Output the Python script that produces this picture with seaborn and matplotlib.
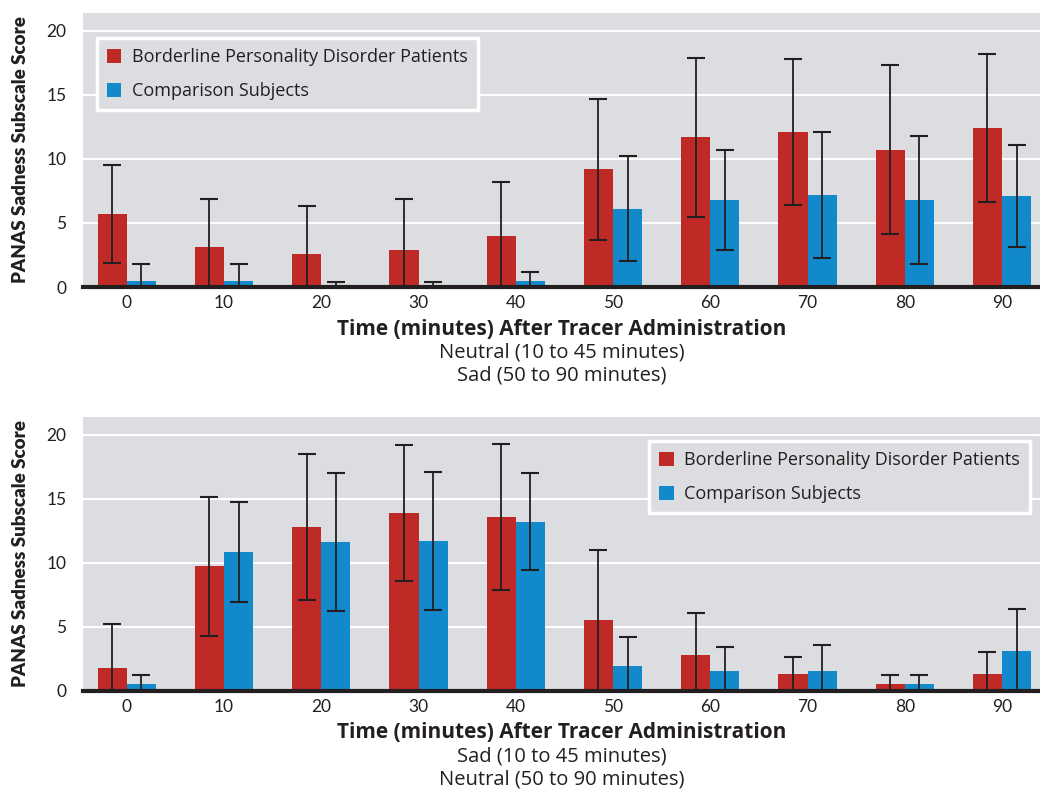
import numpy as np
import pandas as pd
import seaborn as sns
import matplotlib.pyplot as plt

# Data (mean and SD per time point)
minutes = [0, 10, 20, 30, 40, 50, 60, 70, 80, 90]
groups = ['Borderline Personality Disorder Patients', 'Comparison Subjects']

top_bpd_mean = [5.7, 3.1, 2.6, 2.9, 4.0, 9.2, 11.7, 12.1, 10.7, 12.4]
top_bpd_sd = [3.8, 3.8, 3.7, 4.0, 4.2, 5.5, 6.2, 5.7, 6.6, 5.8]
top_cmp_mean = [0.5, 0.5, 0.05, 0.05, 0.45, 6.1, 6.8, 7.2, 6.8, 7.1]
top_cmp_sd = [1.3, 1.3, 0.35, 0.35, 0.7, 4.1, 3.9, 4.9, 5.0, 4.0]

bot_bpd_mean = [1.8, 9.7, 12.8, 13.9, 13.6, 5.5, 2.8, 1.3, 0.5, 1.3]
bot_bpd_sd = [3.4, 5.4, 5.7, 5.3, 5.7, 5.5, 3.3, 1.3, 0.7, 1.7]
bot_cmp_mean = [0.5, 10.8, 11.6, 11.7, 13.2, 1.9, 1.5, 1.5, 0.5, 3.1]
bot_cmp_sd = [0.7, 3.9, 5.4, 5.4, 3.8, 2.3, 1.9, 2.1, 0.7, 3.3]

top_notes = ['Neutral (10 to 45 minutes)', 'Sad (50 to 90 minutes)']
bot_notes = ['Sad (10 to 45 minutes)', 'Neutral (50 to 90 minutes)']

red = '#c02a26'
blue = '#1189cb'
panel_bg = '#dcdde0'
ink = '#231f20'
palette = {groups[0]: red, groups[1]: blue}

text_font = ['Open Sans', 'DejaVu Sans']
tick_font = ['Lato', 'DejaVu Sans']


def panel(ax, bpd_mean, bpd_sd, cmp_mean, cmp_sd, notes, legend_loc, legend_anchor):
    df = pd.DataFrame({
        'minutes': minutes * 2,
        'group': [groups[0]] * len(minutes) + [groups[1]] * len(minutes),
        'score': bpd_mean + cmp_mean,
    })
    sns.barplot(data=df, x='minutes', y='score', hue='group', palette=palette,
                width=0.6, errorbar=None, saturation=1, linewidth=0, ax=ax)

    # error bars centred on the bars seaborn drew
    bars = ax.patches[:2 * len(minutes)]
    xs = [b.get_x() + b.get_width() / 2 for b in bars]
    ys = [b.get_height() for b in bars]
    sds = bpd_sd + cmp_sd
    ax.errorbar(xs, ys, yerr=sds, fmt='none', ecolor=ink, elinewidth=1.3,
                capsize=6.5, capthick=1.5, zorder=4)

    ax.set_facecolor(panel_bg)
    ax.set_ylim(0, 21.4)
    ax.set_xlim(-0.45, 9.39)
    ax.set_yticks([0, 5, 10, 15, 20])
    ax.grid(axis='y', color='white', linewidth=1.5)
    ax.grid(axis='x', visible=False)
    ax.set_axisbelow(True)
    for s in ['top', 'right', 'left']:
        ax.spines[s].set_visible(False)
    ax.spines['bottom'].set_color(ink)
    ax.spines['bottom'].set_linewidth(3)
    ax.spines['bottom'].set_zorder(5)
    ax.tick_params(length=0, labelsize=12.5, colors=ink)
    ax.tick_params(axis='y', pad=12)
    ax.tick_params(axis='x', pad=6)
    for lab in ax.get_xticklabels() + ax.get_yticklabels():
        lab.set_family(tick_font)

    ax.set_ylabel('PANAS Sadness Subscale Score', fontsize=13.5, fontweight='heavy',
                  color=ink, family=['Lato', 'DejaVu Sans'], va='center')
    ax.yaxis.set_label_coords(-0.065, 0.5)
    ax.set_xlabel('Time (minutes) After Tracer Administration', fontsize=15,
                  fontweight='bold', color=ink, family=text_font, va='center')
    ax.xaxis.set_label_coords(0.5, -0.153)
    ax.text(0.5, -0.24, notes[0], transform=ax.transAxes, ha='center', va='center',
            fontsize=14.5, color=ink, family=text_font)
    ax.text(0.5, -0.324, notes[1], transform=ax.transAxes, ha='center', va='center',
            fontsize=14.5, color=ink, family=text_font)

    leg = ax.legend(loc=legend_loc, bbox_to_anchor=legend_anchor, frameon=True,
                    fancybox=False, facecolor=panel_bg, edgecolor='white',
                    framealpha=1, handlelength=0.8, handleheight=0.8,
                    handletextpad=0.6, labelspacing=0.9, borderpad=0.55,
                    borderaxespad=0, prop={'family': text_font, 'size': 13},
                    title=None)
    leg.get_frame().set_linewidth(2.5)
    for t in leg.get_texts():
        t.set_color(ink)


sns.set_style('white')
plt.rcParams['font.family'] = ['DejaVu Sans']

fig = plt.figure(figsize=(10.4, 7.89), dpi=100)
ax1 = fig.add_axes([0.0798, 0.6362, 0.9202, 0.3477])
ax2 = fig.add_axes([0.0798, 0.1246, 0.9202, 0.3473])

panel(ax1, top_bpd_mean, top_bpd_sd, top_cmp_mean, top_cmp_sd, top_notes,
      'upper left', (0.0146, 0.908))
panel(ax2, bot_bpd_mean, bot_bpd_sd, bot_cmp_mean, bot_cmp_sd, bot_notes,
      'upper right', (0.9896, 0.911))

fig.savefig('out.png', dpi=100, facecolor='white')
